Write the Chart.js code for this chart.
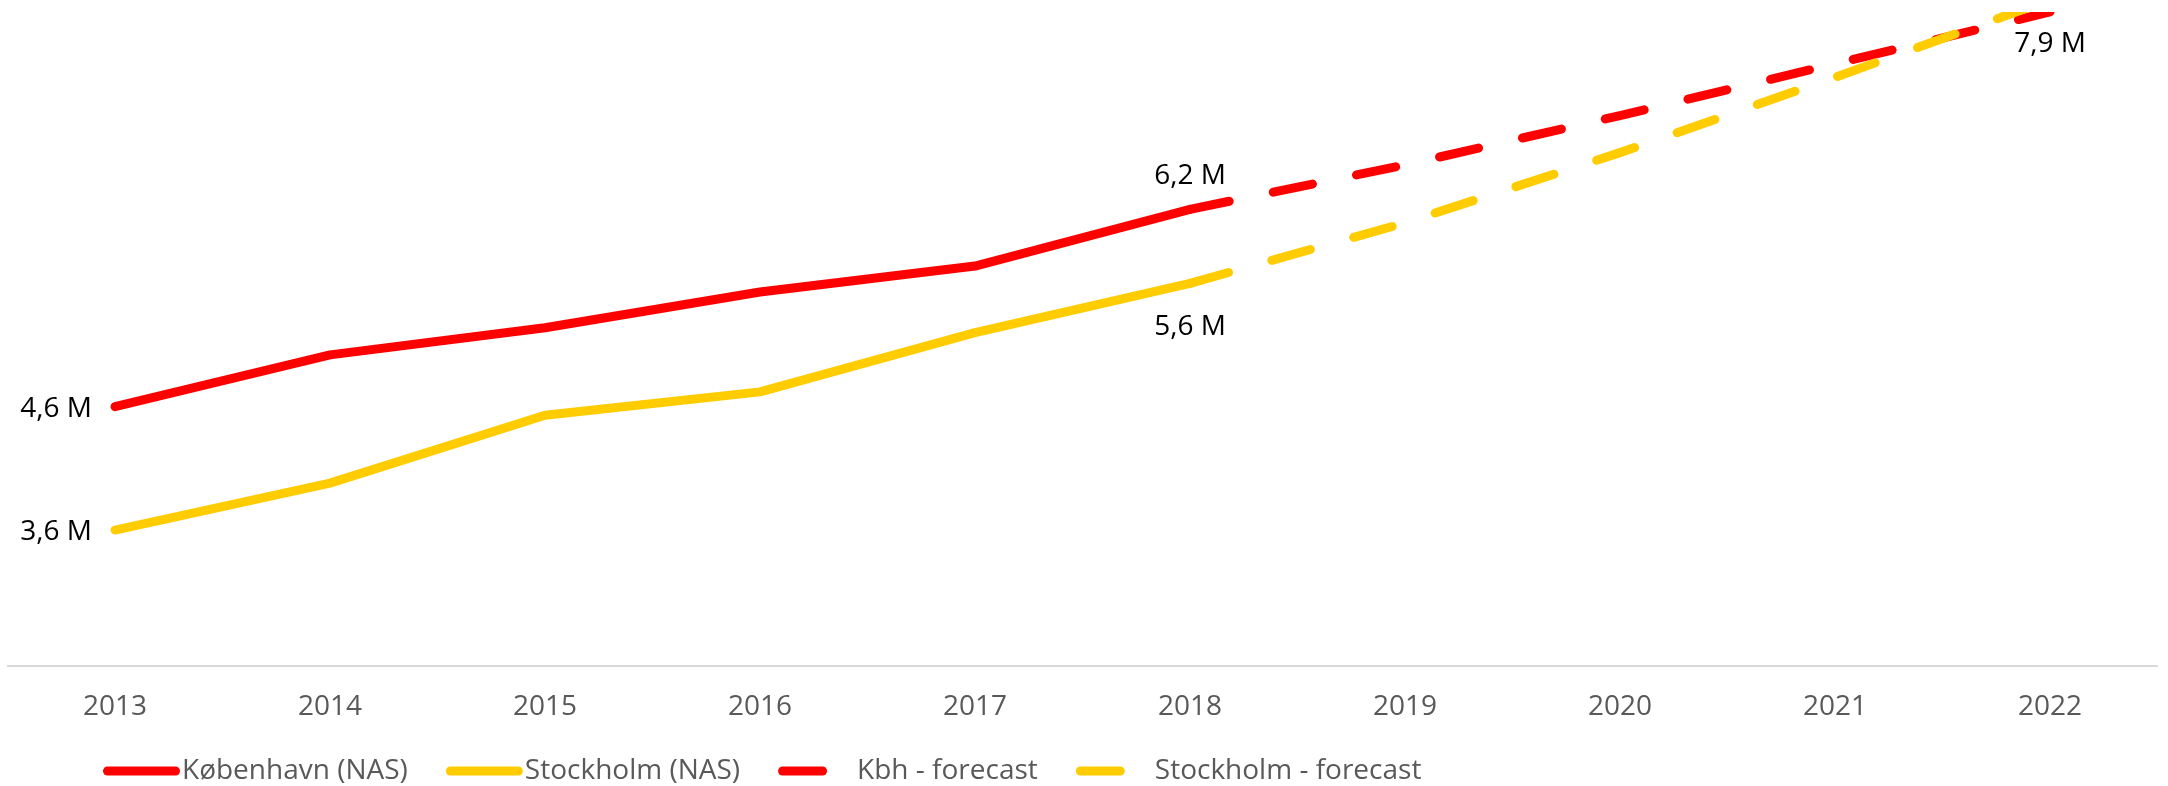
<!DOCTYPE html>
<html lang="da">
<head>
    <meta charset="UTF-8">
    <script src="https://cdn.jsdelivr.net/npm/chart.js"></script>
    <title>Passagerer København vs Stockholm</title>
    <style>
        body { margin: 0; background: #fff; }
    </style>
</head>
<body>
    <canvas id="myChart" width="2168" height="786"></canvas>
    <script>
        // data (millions)
        const years = ['2013', '2014', '2015', '2016', '2017', '2018', '2019', '2020', '2021', '2022'];
        const kbhActual = [4.6, 5.02, 5.24, 5.53, 5.74, 6.2, null, null, null, null];
        const sthActual = [3.6, 3.98, 4.53, 4.72, 5.2, 5.6, null, null, null, null];
        const kbhForecast = [null, null, null, null, null, 6.2, 6.56, 6.96, 7.38, 7.8];
        const sthForecast = [null, null, null, null, null, 5.6, 6.09, 6.66, 7.27, 7.9];
        const seriesNames = ['København (NAS)', 'Stockholm (NAS)', 'Kbh - forecast', 'Stockholm - forecast'];

        // which points carry a value label: [dataset, index, position]
        const valueLabels = [[0, 0, 'left'], [1, 0, 'left'], [0, 5, 'above'], [1, 5, 'below'], [3, 9, 'below']];

        const RED = '#ff0000';
        const YELLOW = '#ffcc00';
        const FONT = "'Open Sans', 'Noto Sans', sans-serif";
        const dash = [40, 45];

        function fmt(v) {
            return v.toFixed(1).replace('.', ',') + ' M';
        }

        const labelPlugin = {
            id: 'valueLabels',
            afterDatasetsDraw(chart) {
                const ctx = chart.ctx;
                const x = chart.scales.x, y = chart.scales.y;
                ctx.save();
                ctx.font = '28px ' + FONT;
                ctx.fillStyle = '#000';
                ctx.textBaseline = 'middle';
                valueLabels.forEach(([ds, i, pos]) => {
                    const v = chart.data.datasets[ds].data[i];
                    const px = x.getPixelForValue(i);
                    const py = y.getPixelForValue(v);
                    if (pos === 'left') {
                        ctx.textAlign = 'right';
                        ctx.fillText(fmt(v), px - 23, py + 2);
                    } else {
                        ctx.textAlign = 'center';
                        ctx.fillText(fmt(v), px, pos === 'above' ? py - 33 : py + 44);
                    }
                });
                ctx.restore();
            }
        };

        const legendPlugin = {
            id: 'lineLegend',
            afterDraw(chart) {
                const ctx = chart.ctx;
                const yy = 771;
                let xx = 107.5;
                ctx.save();
                ctx.font = '28px ' + FONT;
                ctx.textBaseline = 'middle';
                ctx.textAlign = 'left';
                chart.data.datasets.forEach(ds => {
                    ctx.strokeStyle = ds.borderColor;
                    ctx.lineWidth = ds.borderWidth;
                    ctx.lineCap = 'round';
                    ctx.setLineDash(ds.borderDash || []);
                    ctx.beginPath();
                    ctx.moveTo(xx, yy);
                    ctx.lineTo(xx + (ds.borderDash ? 40 : 68), yy);
                    ctx.stroke();
                    ctx.setLineDash([]);
                    ctx.fillStyle = '#595959';
                    ctx.fillText(ds.label, xx + 74.5, yy);
                    xx += 74.5 + ctx.measureText(ds.label).width + 42.5;
                });
                ctx.restore();
            }
        };

        const lineStyle = {
            borderWidth: 9,
            pointRadius: 0,
            pointHoverRadius: 0,
            tension: 0,
            borderCapStyle: 'round',
            borderJoinStyle: 'round',
            fill: false
        };

        const ctx = document.getElementById('myChart').getContext('2d');
        new Chart(ctx, {
            type: 'line',
            data: {
                labels: years,
                datasets: [
                    Object.assign({ label: seriesNames[0], data: kbhActual, borderColor: RED, backgroundColor: RED, order: 4 }, lineStyle),
                    Object.assign({ label: seriesNames[1], data: sthActual, borderColor: YELLOW, backgroundColor: YELLOW, order: 3 }, lineStyle),
                    Object.assign({ label: seriesNames[2], data: kbhForecast, borderColor: RED, backgroundColor: RED, borderDash: dash, order: 2 }, lineStyle),
                    Object.assign({ label: seriesNames[3], data: sthForecast, borderColor: YELLOW, backgroundColor: YELLOW, borderDash: dash, order: 1 }, lineStyle)
                ]
            },
            options: {
                responsive: false,
                animation: false,
                layout: {
                    padding: { top: 12, left: 7.5, right: 10.5, bottom: 36.7 }
                },
                plugins: {
                    legend: { display: false },
                    tooltip: { enabled: false }
                },
                scales: {
                    x: {
                        offset: true,
                        grid: { display: false, drawTicks: false },
                        border: { display: true, color: '#d9d9d9', width: 2 },
                        ticks: {
                            color: '#595959',
                            padding: 25,
                            font: { family: FONT, size: 28 },
                            maxRotation: 0,
                            autoSkip: false
                        }
                    },
                    y: {
                        display: false,
                        min: 2.5,
                        max: 7.8
                    }
                }
            },
            plugins: [labelPlugin, legendPlugin]
        });
    </script>
</body>
</html>
